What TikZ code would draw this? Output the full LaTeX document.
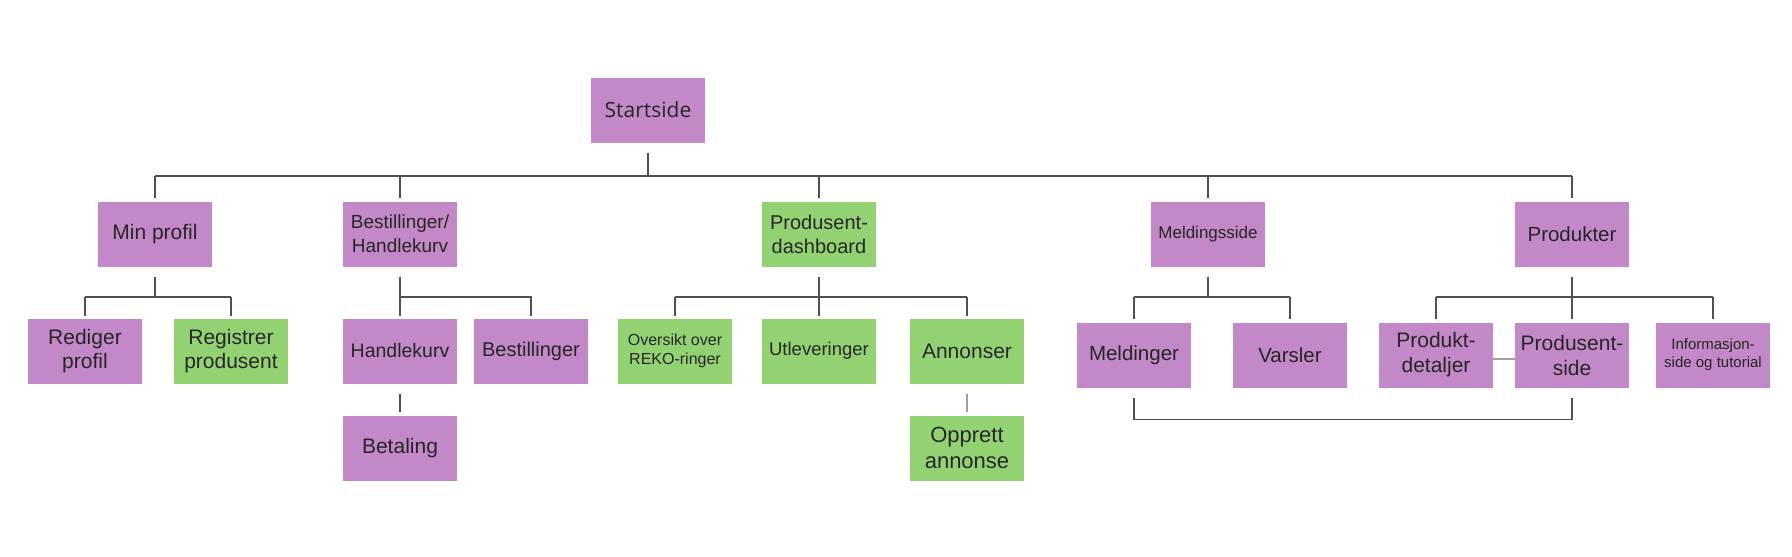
\documentclass[tikz,border=0pt]{standalone}
\usepackage{fontspec}
\setmainfont{Liberation Sans}
\newfontfamily\startfont{Open Sans}
\usetikzlibrary{calc}
\definecolor{purp}{RGB}{194,136,199}
\definecolor{grn}{RGB}{147,210,115}
\definecolor{txt}{RGB}{38,38,38}
\definecolor{linec}{RGB}{80,80,80}
\tikzset{
  box/.style={rectangle, minimum width=114pt, minimum height=65pt, inner sep=2pt, align=center, text=txt},
  pbox/.style={box, fill=purp},
  gbox/.style={box, fill=grn},
  conn/.style={draw=linec, line width=1.2pt},
  lconn/.style={draw=linec!55, line width=1.5pt}
}
\begin{document}
\begin{tikzpicture}[x=1pt,y=-1pt]
\fill[white] (0,0) rectangle (1792,557);
\useasboundingbox (0,0) rectangle (1792,557);
% level 0
\node[pbox, font=\startfont\fontsize{21}{25}\selectfont] (start) at (648,110) {Startside};
% level 1
\node[pbox, font=\fontsize{21}{25}\selectfont] (minprofil) at (155,234) {Min profil};
\node[pbox, font=\fontsize{19}{24}\selectfont] (besthandle) at (400,234) {Bestillinger/\\Handlekurv};
\node[gbox, font=\fontsize{20}{24}\selectfont] (dash) at (819,234) {Produsent-\\dashboard};
\node[pbox, font=\fontsize{17}{20}\selectfont] (meld) at (1208,234) {Meldingsside};
\node[pbox, font=\fontsize{20.5}{24}\selectfont] (prod) at (1572,234) {Produkter};
% level 2
\node[pbox, font=\fontsize{21}{24}\selectfont] (rediger) at (85,351) {Rediger\\profil};
\node[gbox, font=\fontsize{21}{24}\selectfont] (registrer) at (231,351) {Registrer\\produsent};
\node[pbox, font=\fontsize{19.5}{24}\selectfont] (handlekurv) at (400,351) {Handlekurv};
\node[pbox, font=\fontsize{20}{24}\selectfont] (bestillinger) at (531,351) {Bestillinger};
\node[gbox, font=\fontsize{16}{19}\selectfont] (oversikt) at (675,351) {Oversikt over\\REKO-ringer};
\node[gbox, font=\fontsize{18.5}{24}\selectfont] (utlev) at (819,351) {Utleveringer};
\node[gbox, font=\fontsize{21}{25}\selectfont] (annonser) at (967,351) {Annonser};
\node[pbox, font=\fontsize{20.5}{25}\selectfont] (meldinger) at (1134,355) {Meldinger};
\node[pbox, font=\fontsize{20.5}{25}\selectfont] (varsler) at (1290,355) {Varsler};
\node[pbox, font=\fontsize{21}{25}\selectfont] (proddet) at (1436,355) {Produkt-\\detaljer};
\node[pbox, font=\fontsize{21}{25}\selectfont] (prodside) at (1572,355) {Produsent-\\side};
\node[pbox, font=\fontsize{15}{18}\selectfont] (info) at (1713,355) {Informasjon-\\side og tutorial};
% level 3
\node[pbox, font=\fontsize{21}{25}\selectfont] (betaling) at (400,448) {Betaling};
\node[gbox, font=\fontsize{22}{26}\selectfont] (opprett) at (967,448) {Opprett\\annonse};
% buses
\coordinate (bus1) at (0,176);
\coordinate (bus2) at (0,297);
% top level connectors
\draw[conn] ([yshift=-10pt]start.south) -- (start.south |- bus1);
\draw[conn] (minprofil.north |- bus1) -- (prod.north |- bus1);
\foreach \n in {minprofil,besthandle,dash,meld,prod}
  \draw[conn] (\n.north |- bus1) -- ([yshift=3pt]\n.north);
% Min profil children
\draw[conn] ([yshift=-10pt]minprofil.south) -- (minprofil.south |- bus2);
\draw[conn] (rediger.north |- bus2) -- (registrer.north |- bus2);
\foreach \n in {rediger,registrer}
  \draw[conn] (\n.north |- bus2) -- ([yshift=2pt]\n.north);
% Bestillinger/Handlekurv children
\draw[conn] ([yshift=-10pt]besthandle.south) -- (handlekurv.north |- bus2) -- ([yshift=2pt]handlekurv.north);
\draw[conn] (handlekurv.north |- bus2) -- (bestillinger.north |- bus2) -- ([yshift=2pt]bestillinger.north);
\draw[conn] ([yshift=-10pt]handlekurv.south) -- ([yshift=3pt]betaling.north);
% Dashboard children
\draw[conn] ([yshift=-10pt]dash.south) -- ([yshift=2pt]utlev.north);
\draw[conn] (oversikt.north |- bus2) -- (annonser.north |- bus2);
\foreach \n in {oversikt,annonser}
  \draw[conn] (\n.north |- bus2) -- ([yshift=2pt]\n.north);
\draw[lconn] ([yshift=-10pt]annonser.south) -- ([yshift=3pt]opprett.north);
% Meldingsside children
\draw[conn] ([yshift=-10pt]meld.south) -- (meld.south |- bus2);
\draw[conn] (meldinger.north |- bus2) -- (varsler.north |- bus2);
\foreach \n in {meldinger,varsler}
  \draw[conn] (\n.north |- bus2) -- ([yshift=3pt]\n.north);
% Produkter children
\draw[conn] ([yshift=-10pt]prod.south) -- ([yshift=3pt]prodside.north);
\draw[conn] (proddet.north |- bus2) -- (info.north |- bus2);
\foreach \n in {proddet,info}
  \draw[conn] (\n.north |- bus2) -- ([yshift=3pt]\n.north);
\draw[lconn] ([yshift=-4pt]proddet.east) -- ([yshift=-4pt]prodside.west);
% bottom link
\draw[conn] ([yshift=-10pt]meldinger.south) -- ([yshift=-32pt]meldinger.south) -| ([yshift=-10pt]prodside.south);
\end{tikzpicture}
\end{document}
